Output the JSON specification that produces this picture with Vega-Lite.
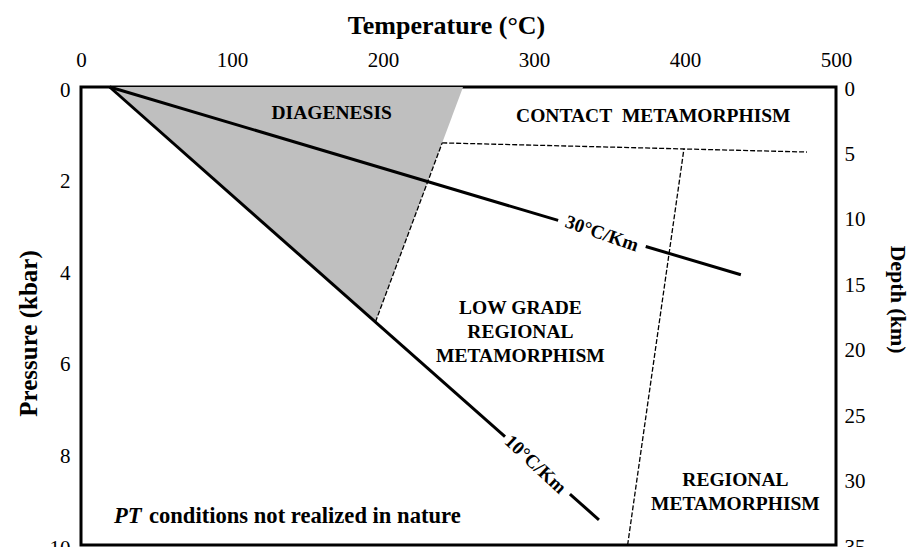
{
  "$schema": "https://vega.github.io/schema/vega-lite/v6.json",
  "width": 755,
  "height": 458,
  "autosize": {"type": "none"},
  "padding": {"left": 81, "top": 87, "right": 73, "bottom": 2},
  "background": "white",
  "config": {
    "view": {"stroke": "black", "strokeWidth": 3},
    "font": "Liberation Serif"
  },
  "layer": [
    {
      "layer": [
        {
          "data": {"values": [
            {"P": 0, "T1": 19, "T2": 253},
            {"P": 5.13, "T1": 195, "T2": 195}
          ]},
          "mark": {"type": "area", "orient": "horizontal", "color": "#bfbfbf"},
          "encoding": {
            "y": {"field": "P", "type": "quantitative", "scale": {"domain": [0, 10], "reverse": true, "nice": false},
              "axis": {"orient": "left", "title": "Pressure (kbar)", "values": [0, 2, 4, 6, 8, 10], "ticks": false, "domain": false, "grid": false,
                "labelFont": "Liberation Serif", "labelFontSize": 21, "labelColor": "black", "labelPadding": 11, "labelOffset": 3,
                "titleFont": "Liberation Serif", "titleFontSize": 25, "titleFontWeight": "bold", "titleColor": "black",
                "titleX": -45, "titleY": 246, "titleBaseline": "alphabetic", "titleAngle": -90}},
            "x": {"field": "T1", "type": "quantitative", "scale": {"domain": [0, 500], "nice": false},
              "axis": {"orient": "top", "title": "Temperature (°C)", "values": [0, 100, 200, 300, 400, 500], "ticks": false, "domain": false, "grid": false, "labelFlush": false,
                "labelFont": "Liberation Serif", "labelFontSize": 21, "labelColor": "black", "labelPadding": 17,
                "titleFont": "Liberation Serif", "titleFontSize": 26, "titleFontWeight": "bold", "titleColor": "black",
                "titleX": 365, "titleY": -54, "titleBaseline": "alphabetic"}},
            "x2": {"field": "T2"}
          }
        },
        {
          "data": {"values": [
            {"id": "g30a", "T": 19, "P": 0}, {"id": "g30a", "T": 316, "P": 2.913},
            {"id": "g30b", "T": 374, "P": 3.482}, {"id": "g30b", "T": 437, "P": 4.10},
            {"id": "g10a", "T": 19, "P": 0}, {"id": "g10a", "T": 280.8, "P": 7.635},
            {"id": "g10b", "T": 323.8, "P": 8.889}, {"id": "g10b", "T": 343, "P": 9.45}
          ]},
          "mark": {"type": "line", "color": "black", "strokeWidth": 3},
          "encoding": {
            "x": {"field": "T", "type": "quantitative"},
            "y": {"field": "P", "type": "quantitative"},
            "detail": {"field": "id"}
          }
        },
        {
          "data": {"values": [
            {"id": "d1", "T": 239.2, "P": 1.22}, {"id": "d1", "T": 195, "P": 5.13},
            {"id": "d2", "T": 239.2, "P": 1.22}, {"id": "d2", "T": 480.8, "P": 1.42},
            {"id": "d3", "T": 399.3, "P": 1.35}, {"id": "d3", "T": 362, "P": 10}
          ]},
          "mark": {"type": "line", "color": "black", "strokeWidth": 1.3, "strokeDash": [5, 2]},
          "encoding": {
            "x": {"field": "T", "type": "quantitative"},
            "y": {"field": "P", "type": "quantitative"},
            "detail": {"field": "id"}
          }
        },
        {
          "data": {"values": [
            {"label": "DIAGENESIS", "T": 166, "P": 0.57},
            {"label": "CONTACT\u00a0 METAMORPHISM", "T": 379, "P": 0.63},
            {"label": "LOW GRADE\nREGIONAL\nMETAMORPHISM", "T": 291, "P": 4.83},
            {"label": "REGIONAL\nMETAMORPHISM", "T": 433.4, "P": 8.58}
          ]},
          "mark": {"type": "text", "font": "Liberation Serif", "fontWeight": "bold", "fontSize": 19.5, "color": "black", "align": "center", "baseline": "middle", "lineBreak": "\n", "lineHeight": 24},
          "encoding": {
            "x": {"field": "T", "type": "quantitative"},
            "y": {"field": "P", "type": "quantitative"},
            "text": {"field": "label"}
          }
        },
        {
          "data": {"values": [
            {"label": "30°C/Km", "T": 345, "P": 3.2, "ang": 19},
            {"label": "10°C/Km", "T": 301, "P": 8.24, "ang": 43}
          ]},
          "mark": {"type": "text", "font": "Liberation Serif", "fontWeight": "bold", "fontSize": 19, "color": "black", "align": "center", "baseline": "middle"},
          "encoding": {
            "x": {"field": "T", "type": "quantitative"},
            "y": {"field": "P", "type": "quantitative"},
            "text": {"field": "label"},
            "angle": {"field": "ang", "type": "quantitative", "scale": null}
          }
        },
        {
          "data": {"values": [
            {"label": "PT", "T": 21.9, "P": 9.37}
          ]},
          "mark": {"type": "text", "font": "Liberation Serif", "fontWeight": "bold", "fontStyle": "italic", "fontSize": 22.6, "color": "black", "align": "left", "baseline": "middle"},
          "encoding": {
            "x": {"field": "T", "type": "quantitative"},
            "y": {"field": "P", "type": "quantitative"},
            "text": {"field": "label"}
          }
        },
        {
          "data": {"values": [
            {"label": "conditions not realized in nature", "T": 45.0, "P": 9.37}
          ]},
          "mark": {"type": "text", "font": "Liberation Serif", "fontWeight": "bold", "fontSize": 22.6, "color": "black", "align": "left", "baseline": "middle"},
          "encoding": {
            "x": {"field": "T", "type": "quantitative"},
            "y": {"field": "P", "type": "quantitative"},
            "text": {"field": "label"}
          }
        }
      ]
    },
    {
      "data": {"values": [{"D": 0}, {"D": 35}]},
      "mark": {"type": "point", "opacity": 0},
      "encoding": {
        "y": {"field": "D", "type": "quantitative", "scale": {"domain": [0, 35], "reverse": true, "nice": false},
          "axis": {"orient": "right", "title": "Depth (km)", "values": [0, 5, 10, 15, 20, 25, 30, 35], "ticks": false, "domain": false, "grid": false,
            "labelFont": "Liberation Serif", "labelFontSize": 21, "labelColor": "black", "labelPadding": 8, "labelOffset": 2,
            "titleFont": "Liberation Serif", "titleFontSize": 22, "titleFontWeight": "bold", "titleColor": "black",
            "titleX": 54, "titleY": 212, "titleBaseline": "alphabetic", "titleAngle": 90}}
      }
    }
  ],
  "resolve": {"scale": {"y": "independent"}, "axis": {"y": "independent"}}
}
